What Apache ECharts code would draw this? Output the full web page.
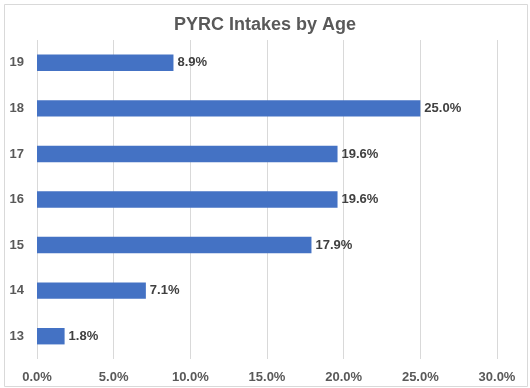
<!DOCTYPE html>
<html><head><meta charset="utf-8">
<script src="https://cdn.jsdelivr.net/npm/echarts@6/dist/echarts.min.js"></script>
<style>html,body{margin:0;padding:0;background:#fff}#c{width:530px;height:388px}</style>
</head><body><div id="c"></div>
<script>
const categories = ['13','14','15','16','17','18','19'];
const values = [1.8, 7.1, 17.9, 19.6, 19.6, 25.0, 8.9];
const chart = echarts.init(document.getElementById('c'));
chart.setOption({
  animation:false,
  graphic:[{type:'rect',shape:{x:4.5,y:4.5,width:523,height:382},style:{fill:'none',stroke:'#d9d9d9',lineWidth:1}}],
  title:{text:'PYRC Intakes by Age',left:'center',top:11,textStyle:{fontFamily:'Liberation Sans, Arial',fontSize:18,fontWeight:'bold',color:'#595959'}},
  grid:{left:37,right:33,top:40,bottom:29},
  xAxis:{type:'value',min:0,max:30,interval:5,
    axisLabel:{formatter:v=>v.toFixed(1)+'%',fontFamily:'Liberation Sans, Arial',fontSize:13,fontWeight:'bold',color:'#595959',margin:12},
    splitLine:{lineStyle:{color:'#d9d9d9'}},axisLine:{show:false},axisTick:{show:false}},
  yAxis:{type:'category',data:categories,
    axisLabel:{fontFamily:'Liberation Sans, Arial',fontSize:13,fontWeight:'bold',color:'#595959',margin:13},
    axisLine:{show:false},axisTick:{show:false}},
  series:[{type:'bar',data:values,barWidth:'36%',itemStyle:{color:'#4472C4'},
    label:{show:true,position:'right',distance:4,formatter:p=>p.value.toFixed(1)+'%',fontFamily:'Liberation Sans, Arial',fontSize:13,fontWeight:'bold',color:'#404040'}}]
});
</script></body></html>
